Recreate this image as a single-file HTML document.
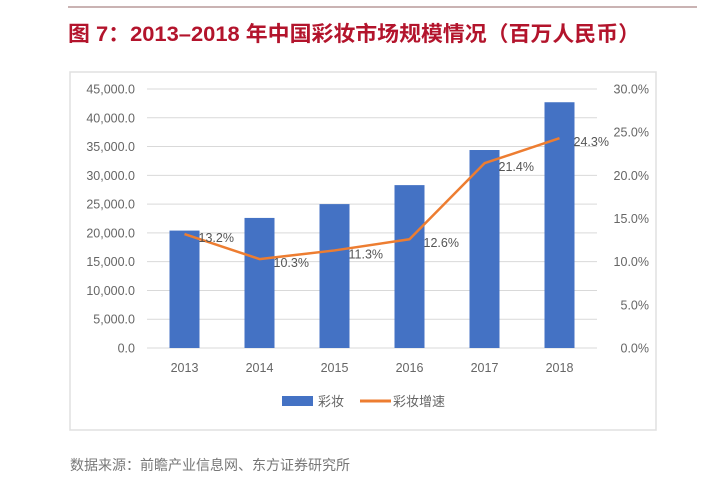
<!DOCTYPE html>
<html><head><meta charset="utf-8"><style>
body{margin:0;width:720px;height:480px;background:#fff;overflow:hidden;font-family:"Liberation Sans","Noto Sans CJK SC",sans-serif}
</style></head><body>
<svg width="720" height="480">
<line x1="68" y1="7" x2="697" y2="7" stroke="#b89a9a" stroke-width="1.5"/>
<text x="68" y="41" font-size="21" font-weight="bold" fill="#b3142c" textLength="572" lengthAdjust="spacingAndGlyphs" font-family="'Liberation Sans','Noto Sans CJK SC',sans-serif">图 7：2013–2018 年中国彩妆市场规模情况（百万人民币）</text>
<rect x="70" y="72" width="586" height="358" fill="#fff" stroke="#e0e0e0" stroke-width="1.5"/>
<g id="grid"></g><g id="bars"></g><g id="line"></g><g id="labels"></g>
<g>
<rect x="282" y="396" width="31" height="10" fill="#4472c4"/>
<text x="318" y="406" font-size="13" fill="#666">彩妆</text>
<line x1="360" y1="401" x2="391" y2="401" stroke="#ed7d31" stroke-width="3"/>
<text x="393" y="406" font-size="13" fill="#666">彩妆增速</text>
</g>
<text x="70" y="470" font-size="14" fill="#777">数据来源：前瞻产业信息网、东方证券研究所</text>
</svg>
<script>
const categories=["2013","2014","2015","2016","2017","2018"];
const sales=[20400,22600,25000,28300,34400,42700];
const growth=[13.2,10.3,11.3,12.6,21.4,24.3];
const leftTicks=[0,5000,10000,15000,20000,25000,30000,35000,40000,45000];
const rightTicks=[0,5,10,15,20,25,30];
const NS="http://www.w3.org/2000/svg";
const X0=147,X1=597,Y0=348,Y1=89;
const xc=i=>X0+(X1-X0)/categories.length*(i+0.5);
const yl=v=>Y0-(Y0-Y1)*v/45000;
const yr=v=>Y0-(Y0-Y1)*v/30;
function mk(tag,attrs,parent,txt){const e=document.createElementNS(NS,tag);for(const k in attrs)e.setAttribute(k,attrs[k]);if(txt!==undefined)e.textContent=txt;document.getElementById(parent).appendChild(e);return e;}
leftTicks.forEach(t=>{
 const l=mk("line",{x1:X0,x2:X1,y1:yl(t),y2:yl(t),stroke:"#d9d9d9","stroke-width":1},"grid");
 
 
 const s=mk("text",{x:135,y:yl(t)+4.5,"font-size":12.5,fill:"#666","text-anchor":"end"},"labels",t.toLocaleString("en-US",{minimumFractionDigits:1,maximumFractionDigits:1}));
 
 
});
rightTicks.forEach(t=>{
 const s=mk("text",{x:649,y:yr(t)+4.5,"font-size":12.5,fill:"#666","text-anchor":"end"},"labels",t.toFixed(1)+"%");
 
 
});
categories.forEach((c,i)=>{
 const b=mk("rect",{x:xc(i)-15,y:yl(sales[i]),width:30,height:Y0-yl(sales[i]),fill:"#4472c4"},"bars");
 
 
 const t=mk("text",{x:xc(i),y:372,"font-size":12.5,fill:"#666","text-anchor":"middle"},"labels",c);
 
 
 const g=mk("text",{x:xc(i)+14,y:yr(growth[i])+8,"font-size":12.5,fill:"#555","text-anchor":"start"},"labels",growth[i].toFixed(1)+"%");
 
 
});
const p=mk("polyline",{points:growth.map((v,i)=>xc(i)+","+yr(v)).join(" "),fill:"none",stroke:"#ed7d31","stroke-width":2.5,"stroke-linejoin":"round"},"line");


</script>
</body></html>
